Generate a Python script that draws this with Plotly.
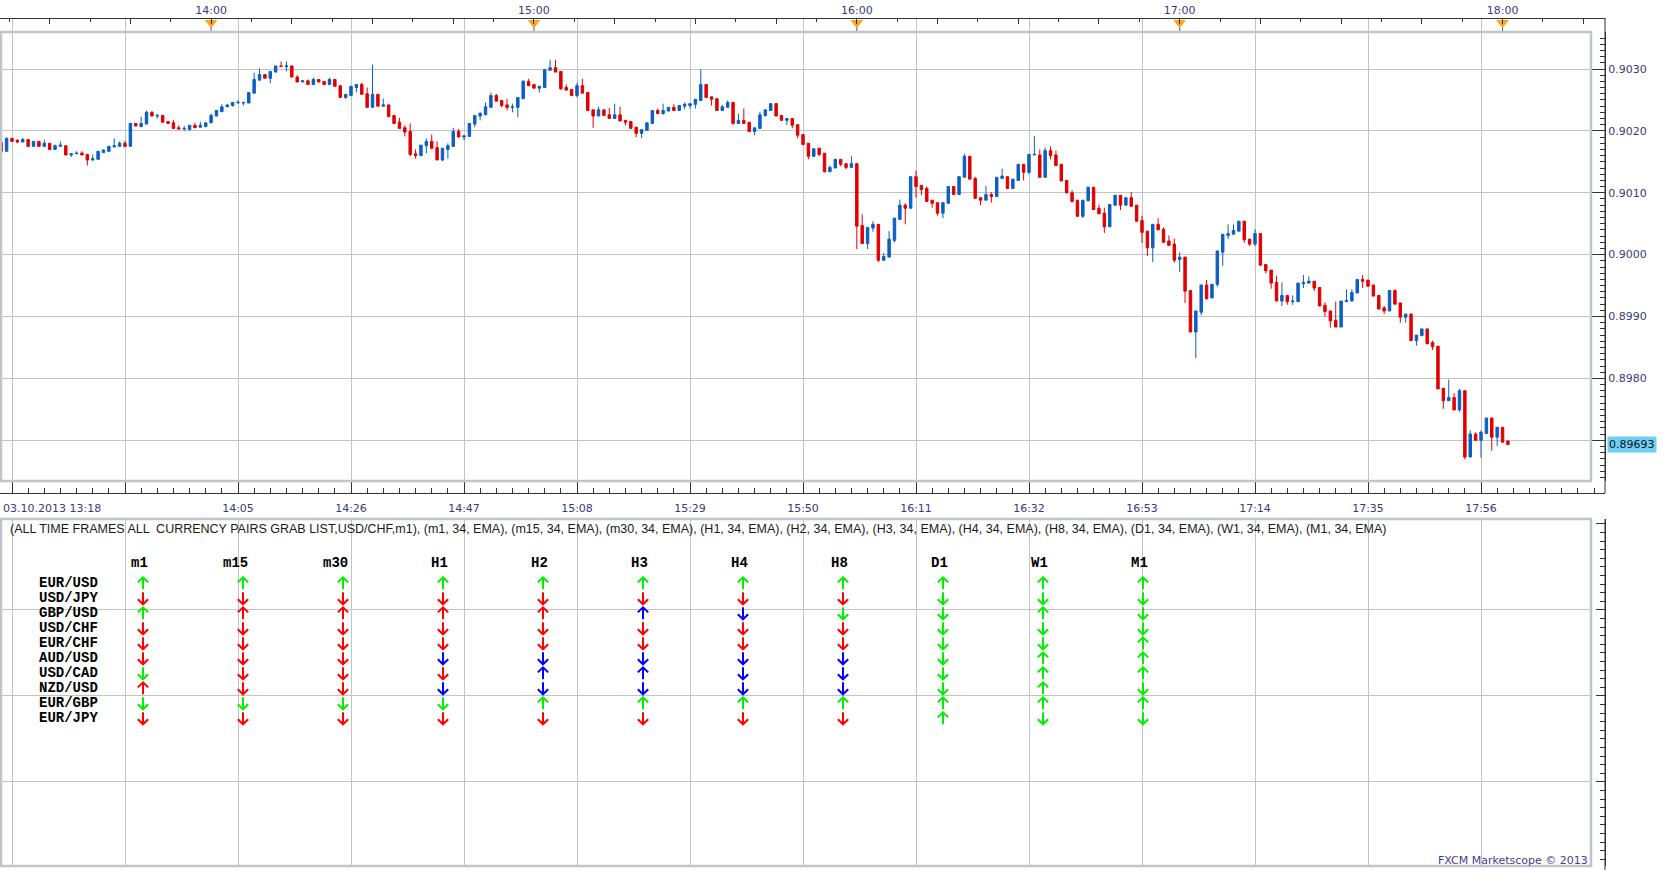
import plotly.graph_objects as go
import pandas as pd

W, H = 1663, 870

# ---------------- data ----------------
bar_start = "2013-10-03 13:21"   # first 1-minute bar (USD/CHF, m1)

open_ = [
    .90181, .90167, .90188, .90185, .90182, .90186, .90175, .90183, .90175, .90180,
    .90170, .90175, .90176, .90161, .90163, .90164, .90162, .90153, .90154, .90165,
    .90167, .90174, .90175, .90180, .90175, .90212, .90207, .90211, .90230, .90224,
    .90225, .90215, .90213, .90205, .90203, .90202, .90209, .90206, .90207, .90213,
    .90224, .90231, .90239, .90241, .90245, .90245, .90245, .90261, .90282, .90291,
    .90285, .90295, .90305, .90304, .90305, .90287, .90279, .90281, .90275, .90283,
    .90280, .90275, .90283, .90273, .90254, .90257, .90270, .90275, .90260, .90238,
    .90259, .90240, .90242, .90225, .90214, .90205, .90199, .90163, .90160, .90176,
    .90183, .90173, .90153, .90170, .90175, .90199, .90190, .90191, .90211, .90224,
    .90226, .90238, .90257, .90249, .90242, .90238, .90238, .90252, .90280, .90275,
    .90269, .90270, .90298, .90302, .90296, .90270, .90267, .90257, .90273, .90262,
    .90234, .90224, .90234, .90226, .90220, .90226, .90217, .90215, .90206, .90196,
    .90201, .90212, .90233, .90228, .90232, .90238, .90233, .90240, .90241, .90243,
    .90249, .90275, .90255, .90252, .90233, .90238, .90246, .90212, .90217, .90214,
    .90199, .90204, .90225, .90233, .90244, .90225, .90217, .90220, .90210, .90194,
    .90180, .90159, .90172, .90164, .90134, .90140, .90154, .90147, .90141, .90147,
    .90047, .90018, .90043, .90049, .89991, .89996, .90023, .90057, .90080, .90075,
    .90126, .90112, .90107, .90088, .90084, .90067, .90083, .90110, .90097, .90125,
    .90159, .90123, .90092, .90088, .90097, .90094, .90123, .90126, .90107, .90120,
    .90146, .90133, .90161, .90161, .90125, .90168, .90161, .90146, .90120, .90100,
    .90088, .90062, .90087, .90109, .90075, .90067, .90045, .90080, .90096, .90080,
    .90092, .90080, .90055, .90038, .90011, .90049, .90041, .90022, .90017, .89992,
    .89996, .89942, .89875, .89907, .89951, .89930, .89952, .90004, .90031, .90033,
    .90038, .90054, .90025, .90017, .90034, .89984, .89975, .89955, .89925, .89934,
    .89924, .89924, .89953, .89954, .89957, .89947, .89918, .89909, .89894, .89883,
    .89924, .89925, .89938, .89960, .89959, .89951, .89934, .89914, .89909, .89942,
    .89922, .89899, .89904, .89861, .89869, .89880, .89858, .89852, .89784, .89764,
    .89769, .89749, .89780, .89673, .89710, .89700, .89711, .89736, .89705, .89721, .89699,
]

high = [
    .90182, .90189, .90188, .90186, .90189, .90186, .90183, .90183, .90186, .90180,
    .90178, .90183, .90176, .90163, .90167, .90167, .90162, .90162, .90167, .90170,
    .90175, .90188, .90183, .90184, .90213, .90212, .90223, .90233, .90232, .90227,
    .90225, .90215, .90218, .90209, .90208, .90209, .90213, .90215, .90213, .90228,
    .90233, .90243, .90242, .90246, .90250, .90246, .90262, .90294, .90301, .90291,
    .90296, .90305, .90312, .90312, .90305, .90290, .90281, .90283, .90286, .90283,
    .90280, .90286, .90283, .90273, .90259, .90272, .90275, .90278, .90270, .90307,
    .90260, .90252, .90242, .90225, .90221, .90209, .90212, .90170, .90177, .90188,
    .90194, .90183, .90172, .90180, .90205, .90203, .90192, .90212, .90225, .90231,
    .90246, .90262, .90260, .90249, .90252, .90244, .90254, .90282, .90284, .90275,
    .90272, .90299, .90315, .90315, .90296, .90275, .90267, .90278, .90284, .90262,
    .90234, .90239, .90234, .90237, .90244, .90239, .90217, .90215, .90206, .90202,
    .90213, .90233, .90236, .90244, .90238, .90243, .90241, .90246, .90244, .90251,
    .90299, .90275, .90255, .90252, .90242, .90249, .90246, .90228, .90236, .90214,
    .90205, .90231, .90234, .90244, .90244, .90225, .90220, .90220, .90210, .90194,
    .90180, .90172, .90172, .90164, .90144, .90154, .90154, .90147, .90159, .90147,
    .90065, .90044, .90054, .90049, .90003, .90038, .90059, .90089, .90083, .90126,
    .90136, .90112, .90110, .90088, .90084, .90084, .90110, .90110, .90126, .90163,
    .90159, .90126, .90092, .90111, .90101, .90125, .90139, .90126, .90122, .90146,
    .90146, .90162, .90192, .90170, .90173, .90175, .90168, .90146, .90120, .90104,
    .90088, .90088, .90109, .90109, .90081, .90076, .90081, .90096, .90096, .90092,
    .90101, .90080, .90063, .90038, .90049, .90059, .90044, .90031, .90026, .90004,
    .89996, .89942, .89909, .89951, .89959, .89952, .90006, .90033, .90049, .90049,
    .90054, .90054, .90025, .90041, .90034, .89984, .89975, .89966, .89955, .89934,
    .89934, .89954, .89967, .89965, .89957, .89947, .89923, .89909, .89924, .89925,
    .89944, .89944, .89960, .89967, .89959, .89951, .89934, .89917, .89942, .89944,
    .89922, .89904, .89904, .89870, .89880, .89880, .89861, .89852, .89784, .89798,
    .89776, .89783, .89780, .89716, .89713, .89716, .89736, .89736, .89721, .89721, .89699,
]

low = [
    .90166, .90167, .90183, .90180, .90182, .90175, .90175, .90175, .90175, .90170,
    .90170, .90175, .90161, .90158, .90163, .90161, .90144, .90152, .90154, .90165,
    .90167, .90174, .90175, .90175, .90175, .90207, .90206, .90211, .90224, .90220,
    .90214, .90212, .90204, .90203, .90200, .90201, .90205, .90206, .90206, .90213,
    .90224, .90231, .90239, .90239, .90245, .90241, .90245, .90261, .90282, .90285,
    .90277, .90295, .90304, .90296, .90287, .90279, .90279, .90275, .90275, .90279,
    .90275, .90275, .90272, .90254, .90252, .90257, .90262, .90259, .90238, .90238,
    .90240, .90240, .90223, .90212, .90204, .90191, .90159, .90155, .90160, .90164,
    .90170, .90153, .90151, .90155, .90175, .90190, .90185, .90191, .90206, .90217,
    .90226, .90238, .90248, .90238, .90233, .90230, .90222, .90252, .90273, .90269,
    .90262, .90270, .90297, .90295, .90266, .90265, .90257, .90254, .90261, .90233,
    .90205, .90224, .90225, .90220, .90220, .90216, .90209, .90204, .90190, .90188,
    .90201, .90212, .90228, .90226, .90232, .90233, .90233, .90235, .90236, .90236,
    .90249, .90254, .90241, .90233, .90233, .90238, .90210, .90212, .90212, .90198,
    .90193, .90204, .90223, .90233, .90224, .90217, .90209, .90204, .90188, .90178,
    .90154, .90158, .90159, .90133, .90134, .90140, .90143, .90138, .90141, .90009,
    .90017, .90009, .90037, .89988, .89991, .89996, .90020, .90057, .90049, .90075,
    .90092, .90096, .90086, .90076, .90063, .90059, .90083, .90097, .90097, .90125,
    .90122, .90091, .90080, .90088, .90084, .90094, .90123, .90107, .90107, .90120,
    .90120, .90130, .90161, .90125, .90125, .90154, .90144, .90119, .90099, .90084,
    .90062, .90059, .90087, .90073, .90066, .90035, .90045, .90079, .90072, .90080,
    .90078, .90054, .90019, .89998, .89988, .90040, .90020, .90015, .89987, .89972,
    .89922, .89875, .89833, .89902, .89927, .89930, .89948, .89982, .90025, .90033,
    .90038, .90019, .90014, .90014, .89983, .89970, .89945, .89925, .89917, .89919,
    .89919, .89924, .89946, .89954, .89941, .89917, .89900, .89882, .89883, .89883,
    .89924, .89925, .89938, .89946, .89949, .89933, .89912, .89904, .89909, .89920,
    .89890, .89890, .89861, .89853, .89869, .89856, .89846, .89783, .89751, .89764,
    .89749, .89746, .89669, .89673, .89700, .89672, .89711, .89683, .89691, .89697, .89693,
]

close = [
    .90167, .90188, .90183, .90182, .90186, .90175, .90183, .90175, .90180, .90170,
    .90176, .90177, .90161, .90163, .90164, .90161, .90153, .90155, .90167, .90169,
    .90175, .90176, .90180, .90175, .90212, .90208, .90212, .90230, .90224, .90225,
    .90214, .90212, .90204, .90203, .90204, .90209, .90205, .90209, .90213, .90225,
    .90233, .90239, .90242, .90246, .90246, .90246, .90262, .90283, .90291, .90285,
    .90296, .90305, .90304, .90305, .90287, .90279, .90281, .90275, .90283, .90279,
    .90275, .90283, .90272, .90254, .90259, .90272, .90275, .90259, .90238, .90259,
    .90240, .90242, .90223, .90212, .90204, .90198, .90162, .90160, .90177, .90183,
    .90172, .90153, .90172, .90176, .90199, .90190, .90192, .90212, .90225, .90228,
    .90239, .90257, .90248, .90241, .90238, .90239, .90254, .90280, .90273, .90269,
    .90272, .90299, .90302, .90295, .90268, .90266, .90257, .90273, .90261, .90233,
    .90224, .90234, .90225, .90220, .90226, .90216, .90214, .90204, .90196, .90202,
    .90213, .90233, .90228, .90233, .90238, .90233, .90241, .90243, .90244, .90251,
    .90275, .90254, .90251, .90233, .90239, .90246, .90212, .90217, .90212, .90199,
    .90205, .90226, .90234, .90244, .90224, .90217, .90220, .90209, .90193, .90178,
    .90159, .90171, .90162, .90134, .90141, .90154, .90146, .90141, .90147, .90046,
    .90018, .90044, .90049, .89991, .89997, .90025, .90059, .90080, .90075, .90126,
    .90110, .90105, .90086, .90083, .90067, .90084, .90110, .90097, .90126, .90159,
    .90122, .90091, .90088, .90097, .90094, .90125, .90127, .90107, .90122, .90146,
    .90133, .90162, .90162, .90125, .90168, .90160, .90144, .90119, .90100, .90086,
    .90062, .90088, .90109, .90073, .90066, .90045, .90081, .90096, .90080, .90092,
    .90078, .90054, .90036, .90011, .90049, .90040, .90020, .90015, .89991, .89996,
    .89941, .89875, .89909, .89951, .89929, .89952, .90006, .90033, .90034, .90039,
    .90054, .90024, .90017, .90034, .89983, .89974, .89954, .89925, .89934, .89924,
    .89925, .89954, .89955, .89957, .89946, .89917, .89908, .89893, .89883, .89925,
    .89926, .89939, .89960, .89957, .89949, .89933, .89912, .89909, .89942, .89920,
    .89899, .89904, .89861, .89870, .89880, .89856, .89851, .89783, .89764, .89769,
    .89749, .89780, .89673, .89710, .89700, .89713, .89736, .89705, .89721, .89697, .89693,
]

assert len(open_) == len(high) == len(low) == len(close)
times = pd.date_range(bar_start, periods=len(open_), freq="min")

# time-axis labels
grid_times = pd.date_range("2013-10-03 13:23", "2013-10-03 18:16", freq="21min")
bottom_labels = ["", "", "14:05", "14:26", "14:47", "15:08", "15:29", "15:50",
                 "16:11", "16:32", "16:53", "17:14", "17:35", "17:56"]
date_label = "03.10.2013 13:18"
top_ticks = pd.date_range("2013-10-03 13:30", "2013-10-03 18:15", freq="15min")
top_labels = [t.strftime("%H:%M") if t.minute == 0 else "" for t in top_ticks]
hour_marks = pd.to_datetime(["2013-10-03 14:00", "2013-10-03 15:00", "2013-10-03 16:00",
                             "2013-10-03 17:00", "2013-10-03 18:00"])
price_ticks = [0.8970, 0.8980, 0.8990, 0.9000, 0.9010, 0.9020, 0.9030]

# indicator table
indicator_title = ("(ALL TIME FRAMES ALL  CURRENCY PAIRS GRAB LIST,USD/CHF,m1), (m1, 34, EMA), "
                   "(m15, 34, EMA), (m30, 34, EMA), (H1, 34, EMA), (H2, 34, EMA), (H3, 34, EMA), "
                   "(H4, 34, EMA), (H8, 34, EMA), (D1, 34, EMA), (W1, 34, EMA), (M1, 34, EMA)")
frames = ["m1", "m15", "m30", "H1", "H2", "H3", "H4", "H8", "D1", "W1", "M1"]
pairs = ["EUR/USD", "USD/JPY", "GBP/USD", "USD/CHF", "EUR/CHF",
         "AUD/USD", "USD/CAD", "NZD/USD", "EUR/GBP", "EUR/JPY"]
# colour letter + direction (u = up arrow, d = down arrow)
signals = [
    "Gu Gu Gu Gu Gu Gu Gu Gu Gu Gu Gu",
    "Rd Rd Rd Rd Rd Rd Rd Rd Gd Gd Gd",
    "Gu Ru Ru Ru Ru Bu Bd Gd Gd Gu Gd",
    "Rd Rd Rd Rd Rd Rd Rd Rd Gd Gd Gd",
    "Rd Rd Rd Rd Rd Rd Rd Rd Gd Gd Gu",
    "Rd Rd Rd Bd Bd Bd Bd Bd Gd Gu Gu",
    "Gd Rd Rd Rd Bu Bu Bd Bd Gd Gu Gu",
    "Ru Rd Rd Bd Bd Bd Bd Bd Gd Gu Gd",
    "Gd Gd Gd Gd Gu Gu Gu Gu Gu Gu Gu",
    "Rd Rd Rd Rd Rd Rd Rd Rd Gu Gd Gd",
]
footer = "FXCM Marketscope © 2013"

# ---------------- styling / layout constants ----------------
BLUE, RED = "#0a5fc4", "#e00000"
GRID = "#c3c3c3"
BORDER = "#c0c4cb"
AXIS = "#333333"
LABEL = "#3a3a78"
ARROW_COLORS = {"G": "#00f000", "R": "#ff0000", "B": "#0000ff"}


def fx(p):  # pixel -> paper x
    return p / W


def fy(p):  # pixel -> paper y
    return 1 - p / H


PLOT_R = 1591          # right edge of plot panes
AXIS_R = 1605          # right vertical axis line
UP_T, UP_B = 32, 481   # upper pane
LO_T, LO_B = 519, 866  # lower pane
PX_PER_MIN = 5.381
g0 = pd.Timestamp("2013-10-03 13:23")   # grid at x = 12 px
t_start = g0 - pd.Timedelta(minutes=12 / PX_PER_MIN)
t_end = t_start + pd.Timedelta(minutes=PLOT_R / PX_PER_MIN)
t_end_ax = t_start + pd.Timedelta(minutes=AXIS_R / PX_PER_MIN)

# price scale: 0.9030 at y=69 px, 61.88 px per 0.001
P_PX = 61.88
p_top = 0.9030 + (69 - UP_T) / P_PX * 0.001
p_bot = 0.9030 - (UP_B - 69) / P_PX * 0.001
# the last-price box hides the price label it sits on
price_text = ["" if abs(v - close[-1]) < 0.0002 else "%.4f" % v for v in price_ticks]

fig = go.Figure()

fig.add_trace(go.Candlestick(
    x=times, open=open_, high=high, low=low, close=close,
    increasing=dict(line=dict(color=BLUE, width=1), fillcolor=BLUE),
    decreasing=dict(line=dict(color=RED, width=1), fillcolor=RED),
    whiskerwidth=0, xaxis="x", yaxis="y", hoverinfo="skip",
))

# invisible anchors so that the auxiliary axes get drawn
for xa, ya in [("x2", "y2"), ("x3", "y6"), ("x4", "y6"), ("x", "y3"), ("x2", "y4")]:
    fig.add_trace(go.Scatter(x=times[:1], y=close[:1], mode="markers",
                             marker=dict(opacity=0, size=1), xaxis=xa, yaxis=ya,
                             hoverinfo="skip"))

# hour markers on the top axis
stem_x, stem_y = [], []
for h in hour_marks:
    stem_x += [h, h, None]
    stem_y += [0.45, 0.0, None]
fig.add_trace(go.Scatter(x=stem_x, y=stem_y, mode="lines",
                         line=dict(color="#555555", width=1),
                         xaxis="x", yaxis="y6", hoverinfo="skip"))
fig.add_trace(go.Scatter(
    x=hour_marks, y=[0.66] * len(hour_marks), mode="markers",
    marker=dict(symbol="triangle-down", size=11, color="#ffa322", line=dict(width=0)),
    xaxis="x", yaxis="y6", hoverinfo="skip",
))

# arrows table (arrow = shaft + V head, in table units: col width 100 px, row 15 px)
HALF = 0.40     # half shaft length (rows)
HEAD_W = 0.052  # half head width (cols)
HEAD_H = 0.34   # head height (rows)
for col_letter, col in ARROW_COLORS.items():
    xs, ys = [], []
    for r, row in enumerate(signals):
        for c, s in enumerate(row.split()):
            if s[0] != col_letter:
                continue
            if s[1] == "u":
                tip, sgn = r - HALF, 1
            else:
                tip, sgn = r + HALF, -1
            tail = r + sgn * HALF
            xs += [c, c, None, c - HEAD_W, c, c + HEAD_W, None]
            ys += [tail, tip, None, tip + sgn * HEAD_H, tip, tip + sgn * HEAD_H, None]
    fig.add_trace(go.Scatter(
        x=xs, y=ys, mode="lines", line=dict(color=col, width=2),
        xaxis="x5", yaxis="y5", hoverinfo="skip",
    ))

annotations = []
for c, f in enumerate(frames):
    annotations.append(dict(
        x=c + 0.07, y=-1.35, xref="x5", yref="y5", text="<b>%s</b>" % f,
        showarrow=False, xanchor="right", yanchor="middle",
        font=dict(family="Liberation Mono", size=14, color="#000000")))
for r, p in enumerate(pairs):
    annotations.append(dict(
        x=-1.06, y=r, xref="x5", yref="y5", text="<b>%s</b>" % p,
        showarrow=False, xanchor="left", yanchor="middle",
        font=dict(family="Liberation Mono", size=14, color="#000000")))

annotations.append(dict(
    x=fx(8), y=fy(529), xref="paper", yref="paper", text=indicator_title,
    showarrow=False, xanchor="left", yanchor="middle",
    font=dict(family="Liberation Sans", size=12.5, color="#1a1a1a")))
annotations.append(dict(
    x=fx(1), y=fy(508), xref="paper", yref="paper", text=date_label,
    showarrow=False, xanchor="left", yanchor="middle",
    font=dict(family="DejaVu Sans", size=11, color=LABEL)))
annotations.append(dict(
    x=fx(PLOT_R - 1), y=fy(860), xref="paper", yref="paper", text=footer,
    showarrow=False, xanchor="right", yanchor="middle",
    font=dict(family="DejaVu Sans", size=11, color="#4a3b8c")))
annotations.append(dict(
    x=fx(1607), y=close[-1], xref="paper", yref="y", text="%.5f" % close[-1],
    showarrow=False, xanchor="left", yanchor="middle", bgcolor="#6dcff6",
    borderpad=1, font=dict(family="DejaVu Sans", size=11, color="#111111")))

shapes = [
    dict(type="rect", xref="paper", yref="paper", x0=fx(1), x1=fx(PLOT_R),
         y0=fy(UP_B), y1=fy(UP_T), line=dict(color=BORDER, width=2.5)),
    dict(type="rect", xref="paper", yref="paper", x0=fx(1), x1=fx(PLOT_R),
         y0=fy(LO_B), y1=fy(LO_T), line=dict(color=BORDER, width=2.5)),
    dict(type="line", xref="paper", yref="paper", x0=fx(AXIS_R), x1=fx(AXIS_R),
         y0=fy(18), y1=fy(493), line=dict(color=AXIS, width=1)),
    dict(type="line", xref="paper", yref="paper", x0=fx(AXIS_R), x1=fx(AXIS_R),
         y0=fy(LO_T), y1=0, line=dict(color=AXIS, width=1)),
]

tick_font = dict(family="DejaVu Sans", size=11, color=LABEL)

fig.update_layout(
    width=W, height=H, margin=dict(l=0, r=0, t=0, b=0),
    paper_bgcolor="white", plot_bgcolor="rgba(0,0,0,0)",
    showlegend=False, hovermode=False, boxgap=0.35,
    annotations=annotations, shapes=shapes,
    xaxis=dict(type="date", domain=[0, fx(PLOT_R)], range=[t_start, t_end],
               anchor="y", tickmode="array", tickvals=grid_times,
               showticklabels=False, ticks="", showgrid=True, gridcolor=GRID,
               gridwidth=1, zeroline=False, showline=False,
               rangeslider=dict(visible=False)),
    yaxis=dict(domain=[fy(UP_B), fy(UP_T)], range=[p_bot, p_top], anchor="x",
               tick0=0.9, dtick=0.001, showticklabels=False, ticks="",
               showgrid=True, gridcolor=GRID, zeroline=False, showline=False),
    xaxis2=dict(type="date", domain=[0, fx(PLOT_R)], range=[t_start, t_end],
                anchor="y2", tickmode="array", tickvals=grid_times,
                showticklabels=False, ticks="", showgrid=True, gridcolor=GRID,
                zeroline=False, showline=False),
    yaxis2=dict(domain=[fy(LO_B), fy(LO_T)], range=[0.023, 4.058], anchor="x2",
                tickmode="array", tickvals=[1, 2, 3], showticklabels=False,
                ticks="", showgrid=True, gridcolor=GRID, zeroline=False,
                showline=False),
    # bottom time axis
    xaxis3=dict(type="date", domain=[0, fx(AXIS_R)], range=[t_start, t_end_ax],
                anchor="free", position=fy(493), side="bottom",
                tickmode="array", tickvals=grid_times, ticktext=bottom_labels,
                ticks="inside", ticklen=12, tickcolor=AXIS, tickwidth=1,
                ticklabelstandoff=5,
                minor=dict(ticks="inside", ticklen=5, tickcolor=AXIS,
                           tick0="2013-10-03 13:23", dtick=180000, showgrid=False),
                showline=True, linecolor=AXIS, linewidth=1, showgrid=False,
                zeroline=False, tickfont=tick_font),
    # top time axis
    xaxis4=dict(type="date", domain=[0, fx(AXIS_R)], range=[t_start, t_end_ax],
                anchor="free", position=fy(18), side="top",
                tickmode="array", tickvals=top_ticks, ticktext=top_labels,
                ticks="inside", ticklen=5, tickcolor=AXIS, tickwidth=1,
                minor=dict(ticks="inside", ticklen=3, tickcolor=AXIS,
                           tick0="2013-10-03 14:00", dtick=450000, showgrid=False),
                showline=True, linecolor=AXIS, linewidth=1, showgrid=False,
                zeroline=False, tickfont=tick_font),
    # price axis on the right
    yaxis3=dict(overlaying="y", anchor="free", position=fx(AXIS_R), side="right",
                range=[p_bot, p_top], tickmode="array", tickvals=price_ticks,
                ticktext=price_text,
                ticks="inside", ticklen=14, tickcolor=AXIS,
                minor=dict(ticks="inside", ticklen=5, tickcolor=AXIS,
                           tick0=0.9, dtick=0.0001, showgrid=False),
                showline=True, linecolor=AXIS, showgrid=False, zeroline=False,
                tickfont=tick_font),
    # lower pane right axis (ticks only)
    yaxis4=dict(overlaying="y2", anchor="free", position=fx(AXIS_R), side="right",
                range=[0.023, 4.058], dtick=1, showticklabels=False,
                ticks="inside", ticklen=9, tickcolor=AXIS,
                minor=dict(ticks="inside", ticklen=5, tickcolor=AXIS, dtick=0.1,
                           showgrid=False),
                showline=True, linecolor=AXIS, showgrid=False, zeroline=False),
    xaxis5=dict(domain=[0, fx(PLOT_R)], range=[-1.43, -1.43 + PLOT_R / 100],
                anchor="y5", visible=False),
    yaxis5=dict(domain=[fy(LO_B), fy(LO_T)],
                range=[(LO_B - 583.3) / 15, (LO_T - 583.3) / 15],
                anchor="x5", visible=False),
    yaxis6=dict(domain=[fy(UP_T), fy(18)], range=[0, 1], anchor="x",
                visible=False),
)

fig.write_html("out.html")
